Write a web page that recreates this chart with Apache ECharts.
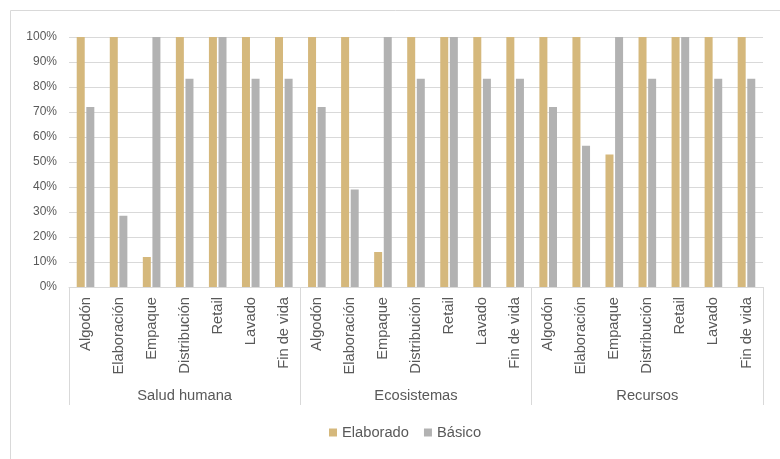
<!DOCTYPE html>
<html>
<head>
<meta charset="utf-8">
<script src="https://cdn.jsdelivr.net/npm/echarts@6/dist/echarts.min.js"></script>
<style>html,body{margin:0;padding:0;background:#fff}#c{width:780px;height:459px}</style>
</head>
<body>
<div id="c"></div>
<script>
const groups = ['Salud humana', 'Ecosistemas', 'Recursos'];
const stages = ['Algodón', 'Elaboración', 'Empaque', 'Distribución', 'Retail', 'Lavado', 'Fin de vida'];
const yTicks = [0, 10, 20, 30, 40, 50, 60, 70, 80, 90, 100];

const elaboradoSalud = [100, 100, 12, 100, 100, 100, 100];
const elaboradoEco   = [100, 100, 14, 100, 100, 100, 100];
const elaboradoRec   = [100, 100, 53, 100, 100, 100, 100];
const basicoSalud = [72, 28.5, 100, 83.3, 100, 83.3, 83.3];
const basicoEco   = [72, 39, 100, 83.3, 100, 83.3, 83.3];
const basicoRec   = [72, 56.5, 100, 83.3, 100, 83.3, 83.3];

const categories = [].concat(stages, stages, stages);
const elaborado = [].concat(elaboradoSalud, elaboradoEco, elaboradoRec);
const basico = [].concat(basicoSalud, basicoEco, basicoRec);

const font = 'Liberation Sans, Arial, sans-serif';
const chart = echarts.init(document.getElementById('c'));
chart.setOption({
  animation: false,
  textStyle: { fontFamily: font },
  graphic: [{
    type: 'rect', shape: { x: 10.5, y: 10.5, width: 800, height: 500 },
    style: { fill: 'none', stroke: '#d9d9d9', lineWidth: 1 }, silent: true, z: -10
  }],
  grid: { left: 69, right: 17, top: 37, bottom: 172, containLabel: false },
  legend: {
    data: ['Elaborado', 'Básico'], left: 324, top: 420,
    icon: 'rect', itemWidth: 8, itemHeight: 8, itemGap: 15,
    textStyle: { fontSize: 14.7, color: '#595959', fontFamily: font }
  },
  xAxis: [{
    type: 'category', data: categories, position: 'bottom',
    axisLine: { show: true, lineStyle: { color: '#d9d9d9', width: 1 } },
    axisTick: { show: false },
    axisLabel: { rotate: 90, interval: 0, margin: 10, fontSize: 14.7, color: '#595959', fontFamily: font }
  }, {
    type: 'category', data: groups, position: 'bottom',
    axisLine: { show: false },
    axisTick: { show: true, length: 118, lineStyle: { color: '#d9d9d9', width: 1 } },
    axisLabel: { interval: 0, margin: 101, fontSize: 14.7, color: '#595959', fontFamily: font }
  }],
  yAxis: {
    type: 'value', min: yTicks[0], max: yTicks[yTicks.length - 1], interval: 10,
    axisLine: { show: false }, axisTick: { show: false },
    axisLabel: { formatter: '{value}%', fontSize: 12, color: '#595959', margin: 12, fontFamily: font },
    splitLine: { lineStyle: { color: '#d9d9d9', width: 1 } }
  },
  series: [{
    name: 'Elaborado', type: 'bar', data: elaborado, xAxisIndex: 0,
    barWidth: 8, barGap: '20%', itemStyle: { color: '#D5B87C' }
  }, {
    name: 'Básico', type: 'bar', data: basico, xAxisIndex: 0,
    barWidth: 8, barGap: '20%', itemStyle: { color: '#B2B2B2' }
  }]
});
</script>
</body>
</html>
